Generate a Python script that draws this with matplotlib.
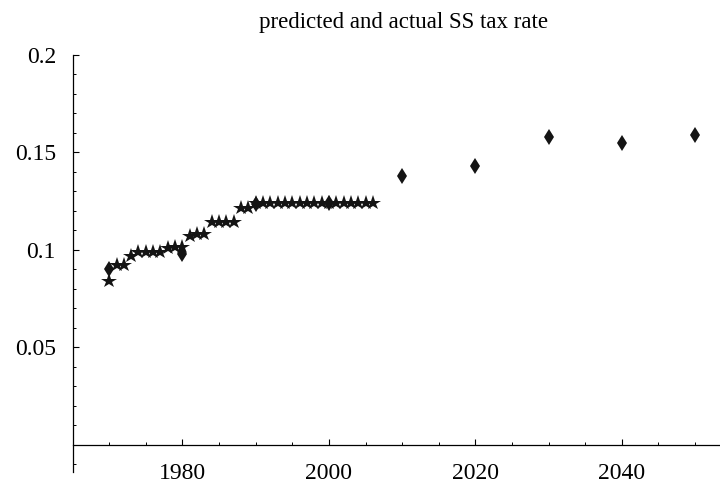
import numpy as np
import matplotlib
matplotlib.use("Agg")
import matplotlib.pyplot as plt
from matplotlib.ticker import MultipleLocator

# actual SS tax rate, one value per year 1970-2006
actual_years = list(range(1970, 2007))
actual_rate = [0.084, 0.092, 0.092, 0.097, 0.099, 0.099, 0.099, 0.099,
               0.101, 0.1016, 0.1016, 0.107, 0.108, 0.108,
               0.114, 0.114, 0.114, 0.114, 0.1212, 0.1212] + [0.124] * 17

# predicted rate, every ten years
pred_years = [1970, 1980, 1990, 2000, 2010, 2020, 2030, 2040, 2050]
pred_rate = [0.090, 0.098, 0.1235, 0.124, 0.138, 0.143, 0.158, 0.155, 0.159]

plt.rcParams['font.family'] = ['Liberation Serif', 'DejaVu Serif']

fig = plt.figure(figsize=(7.2, 4.84), dpi=100)
ax = fig.add_axes([0.1008, 0.0248, 0.8992, 0.8616])

ax.plot(actual_years, actual_rate, linestyle='none', marker='*',
        markersize=11.5, color='#141414', markeredgewidth=0)
ax.plot(pred_years, pred_rate, linestyle='none', marker='d',
        markersize=8.5, color='#141414', markeredgewidth=0)

ax.set_xlim(1965, 2053.4)
ax.set_ylim(-0.0141, 0.2)

for s in ['top', 'right']:
    ax.spines[s].set_visible(False)
ax.spines['bottom'].set_position(('data', 0))
ax.spines['left'].set_linewidth(0.9)
ax.spines['bottom'].set_linewidth(0.9)

ax.set_xticks([1980, 2000, 2020, 2040])
ax.xaxis.set_minor_locator(MultipleLocator(5))
ax.set_yticks([0.05, 0.1, 0.15, 0.2])
ax.set_yticklabels(['0.05', '0.1', '0.15', '0.2'])
ax.yaxis.set_minor_locator(MultipleLocator(0.01))

ax.tick_params(axis='both', which='major', direction='in', length=4.5,
               width=0.8, labelsize=17)
ax.tick_params(axis='both', which='minor', direction='in', length=2.5,
               width=0.7)
ax.tick_params(axis='x', which='major', pad=13.5)
ax.tick_params(axis='y', which='major', pad=12)

fig.text(0.56, 0.953, 'predicted and actual SS tax rate', ha='center',
         va='center', fontsize=16.5)

fig.savefig('out.png', dpi=100)
